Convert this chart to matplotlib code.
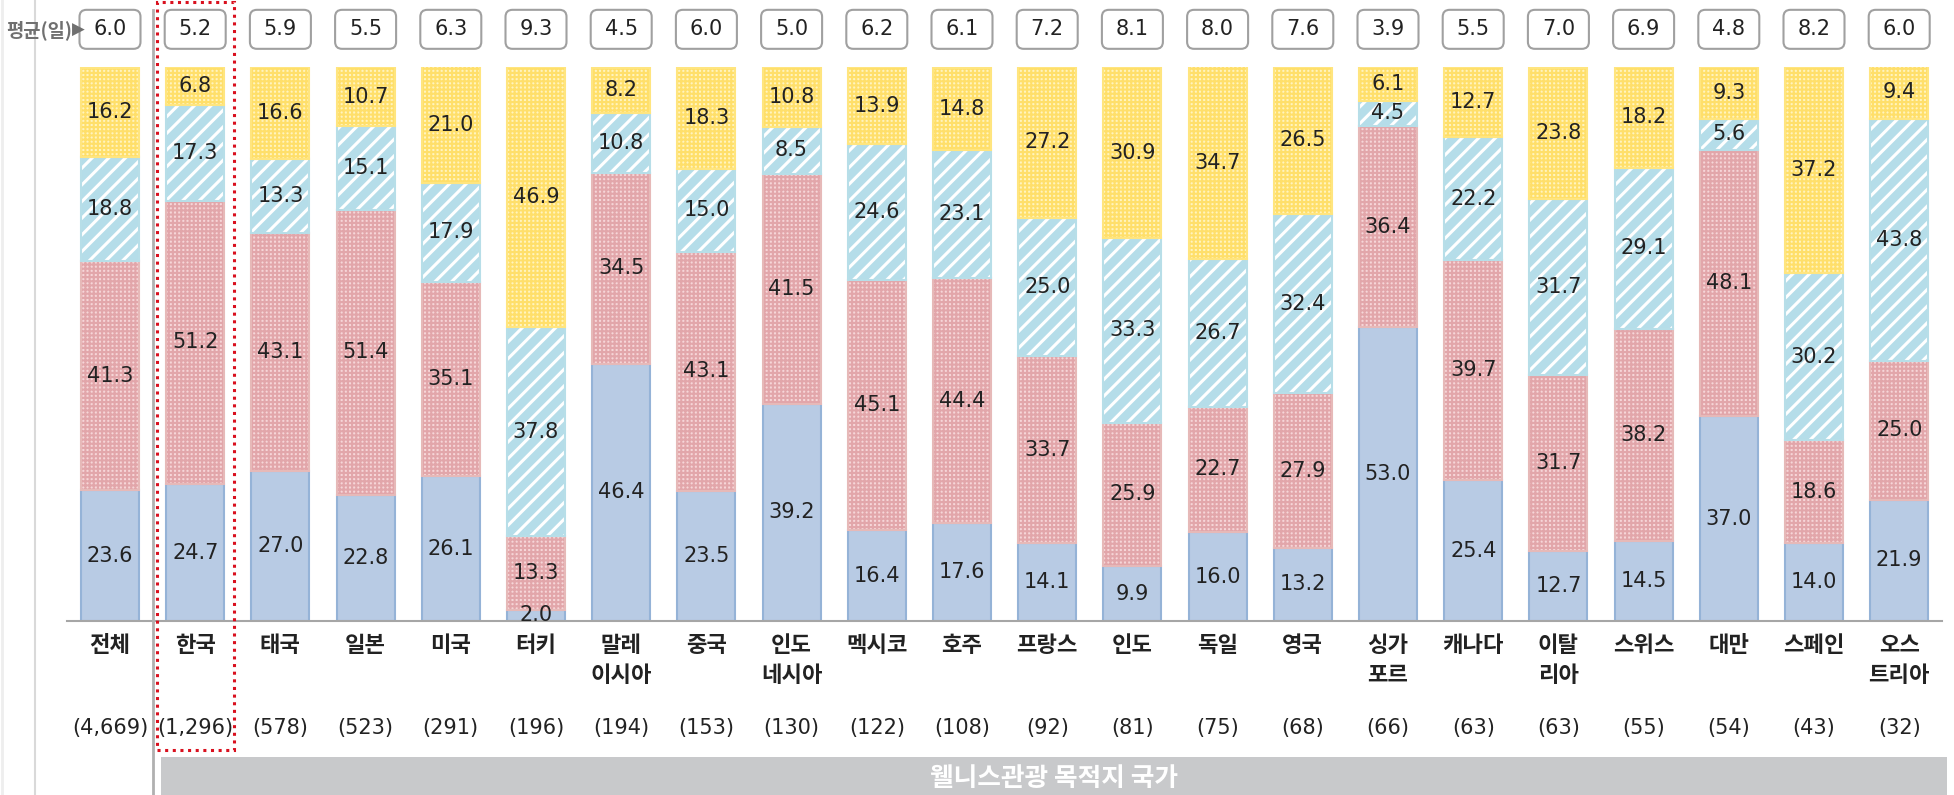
import matplotlib
matplotlib.use("Agg")
import matplotlib.pyplot as plt
from matplotlib.patches import FancyBboxPatch, Rectangle
from matplotlib.lines import Line2D

plt.rcParams['font.family'] = ['Noto Sans CJK KR', 'DejaVu Sans']
plt.rcParams['hatch.linewidth'] = 1.5

categories = ['전체', '한국', '태국', '일본', '미국', '터키', '말레\n이시아', '중국', '인도\n네시아',
              '멕시코', '호주', '프랑스', '인도', '독일', '영국', '싱가\n포르', '캐나다', '이탈\n리아',
              '스위스', '대만', '스페인', '오스\n트리아']
counts = ['(4,669)', '(1,296)', '(578)', '(523)', '(291)', '(196)', '(194)', '(153)', '(130)',
          '(122)', '(108)', '(92)', '(81)', '(75)', '(68)', '(66)', '(63)', '(63)', '(55)',
          '(54)', '(43)', '(32)']
averages = [6.0, 5.2, 5.9, 5.5, 6.3, 9.3, 4.5, 6.0, 5.0, 6.2, 6.1, 7.2, 8.1, 8.0, 7.6, 3.9,
            5.5, 7.0, 6.9, 4.8, 8.2, 6.0]
seg1 = [23.6, 24.7, 27.0, 22.8, 26.1, 2.0, 46.4, 23.5, 39.2, 16.4, 17.6, 14.1, 9.9, 16.0, 13.2,
        53.0, 25.4, 12.7, 14.5, 37.0, 14.0, 21.9]
seg2 = [41.3, 51.2, 43.1, 51.4, 35.1, 13.3, 34.5, 43.1, 41.5, 45.1, 44.4, 33.7, 25.9, 22.7, 27.9,
        36.4, 39.7, 31.7, 38.2, 48.1, 18.6, 25.0]
seg3 = [18.8, 17.3, 13.3, 15.1, 17.9, 37.8, 10.8, 15.0, 8.5, 24.6, 23.1, 25.0, 33.3, 26.7, 32.4,
        4.5, 22.2, 31.7, 29.1, 5.6, 30.2, 43.8]
seg4 = [16.2, 6.8, 16.6, 10.7, 21.0, 46.9, 8.2, 18.3, 10.8, 13.9, 14.8, 27.2, 30.9, 34.7, 26.5,
        6.1, 12.7, 23.8, 18.2, 9.3, 37.2, 9.4]
series = [seg1, seg2, seg3, seg4]
group_title = '웰니스관광 목적지 국가'
avg_label = '평균(일)'

NUM_FONT = ['DejaVu Sans']

W, H = 1954, 795
fig = plt.figure(figsize=(W / 100, H / 100), dpi=100)
ax_left, ax_right, ax_top, ax_bot = 67.4, 1941.8, 67, 621
ax = fig.add_axes([ax_left / W, 1 - ax_bot / H, (ax_right - ax_left) / W, (ax_bot - ax_top) / H])
n = len(categories)
x = list(range(n))
ax.set_xlim(-0.5, n - 0.5)
ax.set_ylim(0, 100)
ax.axis('off')

# styles: (face, hatch, hatchcolor, edge, hatch linewidth)
styles = [
    ('#b8cbe4', None, None, '#95b3d7', 1.5),
    ('#f6d6d8', '++++', '#e2a6aa', '#e6b9b8', 1.5),
    ('#b5dde9', '//', '#ffffff', '#b7dee8', 2.2),
    ('#fff4bf', '++++', '#ffdf6a', '#ffe57f', 1.5),
]
bw = 0.68
bottoms = [0.0] * n
for vals, (face, hatch, hcol, edge, hlw) in zip(series, styles):
    if hatch:
        with plt.rc_context({'hatch.linewidth': hlw}):
            bars = ax.bar(x, vals, bw, bottom=bottoms, color=face, hatch=hatch, edgecolor=hcol,
                          linewidth=0)
            for p in bars:
                if hasattr(p, 'set_hatch_linewidth'):
                    p.set_hatch_linewidth(hlw)
        ax.bar(x, vals, bw, bottom=bottoms, fill=False, edgecolor=edge, linewidth=1.5)
    else:
        ax.bar(x, vals, bw, bottom=bottoms, color=face, edgecolor=edge, linewidth=1.5)
    for i, v in enumerate(vals):
        ax.text(i, bottoms[i] + v / 2, f'{v:.1f}', ha='center', va='center', fontsize=15,
                color='#222222', family=NUM_FONT)
    bottoms = [b + v for b, v in zip(bottoms, vals)]

# baseline
ax.plot([-0.5, n - 0.5], [0, 0], color='#a6a6a6', lw=1.5, clip_on=False)

# category labels and counts
for i in x:
    ax.text(i, -2.3, categories[i], ha='center', va='top', fontsize=16, fontweight='bold',
            color='#222222', linespacing=1.4)
    ax.text(i, -19.3, counts[i], ha='center', va='center', fontsize=15, color='#222222',
            family=NUM_FONT)

# average boxes (drawn in inches for round corners)
fig.canvas.draw()
dpi = fig.dpi
for i in x:
    px, py = ax.transData.transform((i, 106.8))
    cx, cy = px / dpi, py / dpi
    bwid, bhei = 0.61, 0.39
    box = FancyBboxPatch((cx - bwid / 2, cy - bhei / 2), bwid, bhei,
                         boxstyle='round,pad=0,rounding_size=0.07',
                         transform=fig.dpi_scale_trans, facecolor='white',
                         edgecolor='#a0a0a0', linewidth=1.5, clip_on=False, zorder=3)
    ax.add_artist(box)
    ax.text(i, 106.8, f'{averages[i]:.1f}', ha='center', va='center', fontsize=15,
            color='#222222', clip_on=False, zorder=4, family=NUM_FONT)

fig.text(6 / W, 1 - 30 / H, avg_label, ha='left', va='center', fontsize=13.5,
         fontweight='bold', color='#707070')
fig.text(72 / W, 1 - 30 / H, '▶', ha='left', va='center', fontsize=12, color='#707070',
         family=['DejaVu Sans'])

# left vertical line
fig.add_artist(Line2D([35 / W, 35 / W], [0, 1], color='#d9d9d9', lw=1.5))
fig.add_artist(Line2D([2 / W, 2 / W], [0, 1], color='#eeeeee', lw=2))

# separator line between 전체 and 한국
sep_x = (153 - ax_left) / 85.2 - 0.5
ax.plot([sep_x, sep_x], [110.3, -32], color='#b0b0b0', lw=2, clip_on=False)

# highlight around 한국
ax.add_patch(Rectangle((0.55, -23.3), 0.905, 135.0, fill=False, edgecolor='#d9101e',
                       linestyle=(0, (1, 1.5)), linewidth=2.2, clip_on=False, zorder=5))

# bottom grey band
fig.add_artist(Rectangle((161 / W, 0), (1947 - 161) / W, 38 / H, transform=fig.transFigure,
                         facecolor='#c8c9cb', edgecolor='none'))
fig.text((161 + 1947) / 2 / W, 17 / H, group_title, ha='center', va='center', fontsize=18.5,
         fontweight='bold', color='white')

fig.savefig('out.png', dpi=100)
